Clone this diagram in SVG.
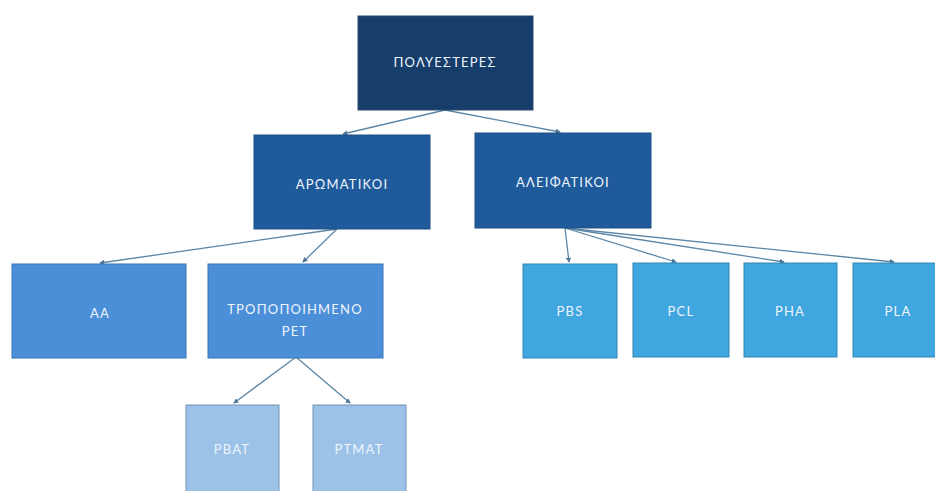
<svg xmlns="http://www.w3.org/2000/svg" width="935" height="491" viewBox="0 0 935 491">
<style>
.t{font-family:"Lato","Open Sans","DejaVu Sans",sans-serif;font-size:13px;fill:#eef4fb;text-anchor:middle;letter-spacing:1.2px}
.c{stroke:#5b86a6;stroke-width:1.3;fill:none;marker-end:url(#ah)}
.l0{fill:#173d6b;stroke:#2b4a70;stroke-width:1}
.l1{fill:#1f5b9b;stroke:#1d4f86;stroke-width:1}
.l2{fill:#4a8fd8;stroke:#3b75b3;stroke-width:1}
.l3{fill:#3fa6df;stroke:#3486b4;stroke-width:1}
.l4{fill:#9cc2e7;stroke:#6f95b8;stroke-width:1}
</style>
<defs>
<marker id="ah" viewBox="0 0 6 6" refX="5" refY="3" markerWidth="4" markerHeight="4" orient="auto">
<path d="M0,0 L6,3 L0,6 z" fill="#4f7696"/>
</marker>
</defs>
<rect width="935" height="491" fill="#ffffff"/>
<g id="connectors">
<line class="c" x1="445" y1="110" x2="343" y2="134"/>
<line class="c" x1="445" y1="110" x2="560" y2="132"/>
<line class="c" x1="337" y1="229" x2="100" y2="263"/>
<line class="c" x1="337" y1="229" x2="303" y2="262"/>
<line class="c" x1="565" y1="228" x2="569" y2="262"/>
<line class="c" x1="565" y1="228" x2="676" y2="262"/>
<line class="c" x1="565" y1="228" x2="784" y2="262"/>
<line class="c" x1="565" y1="228" x2="894" y2="262"/>
<line class="c" x1="296" y1="357" x2="234" y2="403"/>
<line class="c" x1="296" y1="357" x2="350" y2="403"/>
</g>
<g id="n-polyesteres"><rect class="l0" x="358" y="16" width="175" height="94"/><text class="t" x="445" y="67">ΠΟΛΥΕΣΤΕΡΕΣ</text></g>
<g id="n-aromatikoi"><rect class="l1" x="254" y="135" width="176" height="94"/><text class="t" x="342" y="189">ΑΡΩΜΑΤΙΚΟΙ</text></g>
<g id="n-aleifatikoi"><rect class="l1" x="475" y="133" width="176" height="95"/><text class="t" x="563" y="187">ΑΛΕΙΦΑΤΙΚΟΙ</text></g>
<g id="n-aa"><rect class="l2" x="12" y="264" width="174" height="94"/><text class="t" x="100" y="318">AA</text></g>
<g id="n-pet"><rect class="l2" x="208" y="264" width="175" height="94"/><text class="t" x="295" y="314">ΤΡΟΠΟΠΟΙΗΜΕΝΟ</text><text class="t" x="295" y="336">PET</text></g>
<g id="n-pbs"><rect class="l3" x="523" y="264" width="94" height="94"/><text class="t" x="570" y="316">PBS</text></g>
<g id="n-pcl"><rect class="l3" x="633" y="263" width="96" height="94"/><text class="t" x="681" y="316">PCL</text></g>
<g id="n-pha"><rect class="l3" x="744" y="263" width="93" height="94"/><text class="t" x="790" y="316">PHA</text></g>
<g id="n-pla"><rect class="l3" x="853" y="263" width="90" height="94"/><text class="t" x="898" y="316">PLA</text></g>
<g id="n-pbat"><rect class="l4" x="186" y="405" width="93" height="94"/><text class="t" x="232" y="454">PBAT</text></g>
<g id="n-ptmat"><rect class="l4" x="313" y="405" width="93" height="94"/><text class="t" x="359" y="454">PTMAT</text></g>
</svg>
